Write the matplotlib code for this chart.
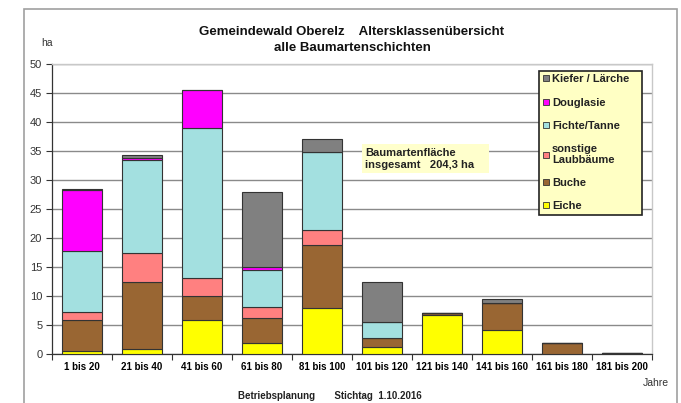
import matplotlib
matplotlib.use("Agg")
import matplotlib.pyplot as plt
from matplotlib.patches import Rectangle
from matplotlib.lines import Line2D
import numpy as np

plt.rcParams['font.family'] = ['Liberation Sans', 'DejaVu Sans']

categories = ["1 bis 20", "21 bis 40", "41 bis 60", "61 bis 80", "81 bis 100",
              "101 bis 120", "121 bis 140", "141 bis 160", "161 bis 180", "181 bis 200"]
eiche     = [0.5, 0.9, 5.8, 1.95, 7.85, 1.25, 6.75, 4.15, 0.0, 0.0]
buche     = [5.4, 11.6, 4.2, 4.3, 10.95, 1.5, 0.25, 4.65, 1.9, 0.1]
sonstige  = [1.4, 4.9, 3.1, 1.85, 2.5, 0.0, 0.0, 0.0, 0.0, 0.0]
fichte    = [10.5, 16.1, 25.9, 6.35, 13.6, 2.8, 0.0, 0.0, 0.0, 0.0]
douglasie = [10.5, 0.3, 6.6, 0.55, 0.0, 0.0, 0.0, 0.0, 0.0, 0.0]
kiefer    = [0.2, 0.5, 0.0, 13.0, 2.1, 6.85, 0.0, 0.6, 0.0, 0.0]

series = [
    ("Eiche", eiche, "#FFFF00"),
    ("Buche", buche, "#996633"),
    ("sonstige\nLaubbäume", sonstige, "#FF8080"),
    ("Fichte/Tanne", fichte, "#A3E0E0"),
    ("Douglasie", douglasie, "#FF00FF"),
    ("Kiefer / Lärche", kiefer, "#808080"),
]

W, H = 681, 403
fig = plt.figure(figsize=(W / 100, H / 100), dpi=100)
ax = fig.add_axes([52 / W, 1 - 354 / H, 600 / W, 290 / H])

x = np.arange(len(categories))
bottom = np.zeros(len(categories))
for name, vals, col in series:
    v = np.array(vals)
    ax.bar(x, v, width=40 / 60, bottom=bottom, color=col,
           edgecolor="#333333", linewidth=0.8, zorder=3)
    bottom += v

ax.set_xlim(-0.5, len(categories) - 0.5)
ax.set_ylim(0, 50)
ax.set_yticks(np.arange(0, 51, 5))
ax.yaxis.grid(True, color="#8a8a8a", linewidth=1.0, zorder=0)
ax.set_axisbelow(True)
ax.tick_params(axis='y', labelsize=8, length=4, width=0.8, color="#333333",
               labelcolor="#333333", pad=3)

ax.set_xticks(np.arange(-0.5, len(categories) + 0.5, 1))
ax.set_xticklabels([])
ax.set_xticks(x, minor=True)
ax.set_xticklabels(categories, minor=True, fontsize=7, fontweight='bold')
ax.tick_params(axis='x', which='major', length=4, width=0.8, color="#333333")
ax.tick_params(axis='x', which='minor', length=0, pad=6)

for s in ['top', 'right']:
    ax.spines[s].set_color("#c8c8c8")
    ax.spines[s].set_linewidth(1.0)
for s in ['left', 'bottom']:
    ax.spines[s].set_color("#333333")
    ax.spines[s].set_linewidth(0.9)

# legend
handles = [Line2D([0], [0], marker='s', linestyle='none', markersize=5,
                  markerfacecolor=col, markeredgecolor="#333333", markeredgewidth=0.6)
           for _, _, col in series][::-1]
labels = [name for name, _, _ in series][::-1]
leg = ax.legend(handles, labels, loc='upper left',
                bbox_to_anchor=(539 / W, 1 - 75 / H, 103 / W, 0.01),
                bbox_transform=fig.transFigure, mode='expand',
                prop={'weight': 'bold', 'size': 8}, labelspacing=1.2,
                handlelength=0.6, handletextpad=0.25, borderpad=0.3,
                borderaxespad=0, fancybox=False, framealpha=1)
leg.get_frame().set_facecolor("#FFFFC4")
leg.get_frame().set_edgecolor("#222222")
leg.get_frame().set_linewidth(1.2)
for t in leg.get_texts():
    t.set_color("#222222")
    t.set_linespacing(1.05)

# total area box
fig.add_artist(Rectangle((362 / W, 1 - 173 / H), 127 / W, 29 / H,
                         transform=fig.transFigure, facecolor="#FFFFCC",
                         edgecolor='none', zorder=5))
fig.text(365 / W, 1 - 158.5 / H, "Baumartenfläche\ninsgesamt   204,3 ha",
         fontsize=8, fontweight='bold', ha='left', va='center', color="#222222",
         linespacing=1.25, zorder=6)

# outer frame
fig.add_artist(Rectangle((24 / W, -0.1), 653 / W, 1.1 - 9 / H,
                         transform=fig.transFigure, facecolor='none',
                         edgecolor="#a0a0a0", linewidth=1.2, zorder=0))

fig.text(352 / W, 1 - 32 / H, "Gemeindewald Oberelz    Altersklassenübersicht",
         fontsize=9.5, fontweight='bold', ha='center', va='center', color="#111111")
fig.text(352 / W, 1 - 48 / H, "alle Baumartenschichten",
         fontsize=9.5, fontweight='bold', ha='center', va='center', color="#111111")
fig.text(47 / W, 1 - 43 / H, "ha", fontsize=7.5, ha='center', va='center', color="#333333")
fig.text(656 / W, 1 - 383 / H, "Jahre", fontsize=7.5, ha='center', va='center', color="#333333")
fig.text(330 / W, 1 - 396 / H, "Betriebsplanung       Stichtag  1.10.2016",
         fontsize=7, fontweight='bold', ha='center', va='center', color="#222222")

fig.savefig("out.png", dpi=100)
